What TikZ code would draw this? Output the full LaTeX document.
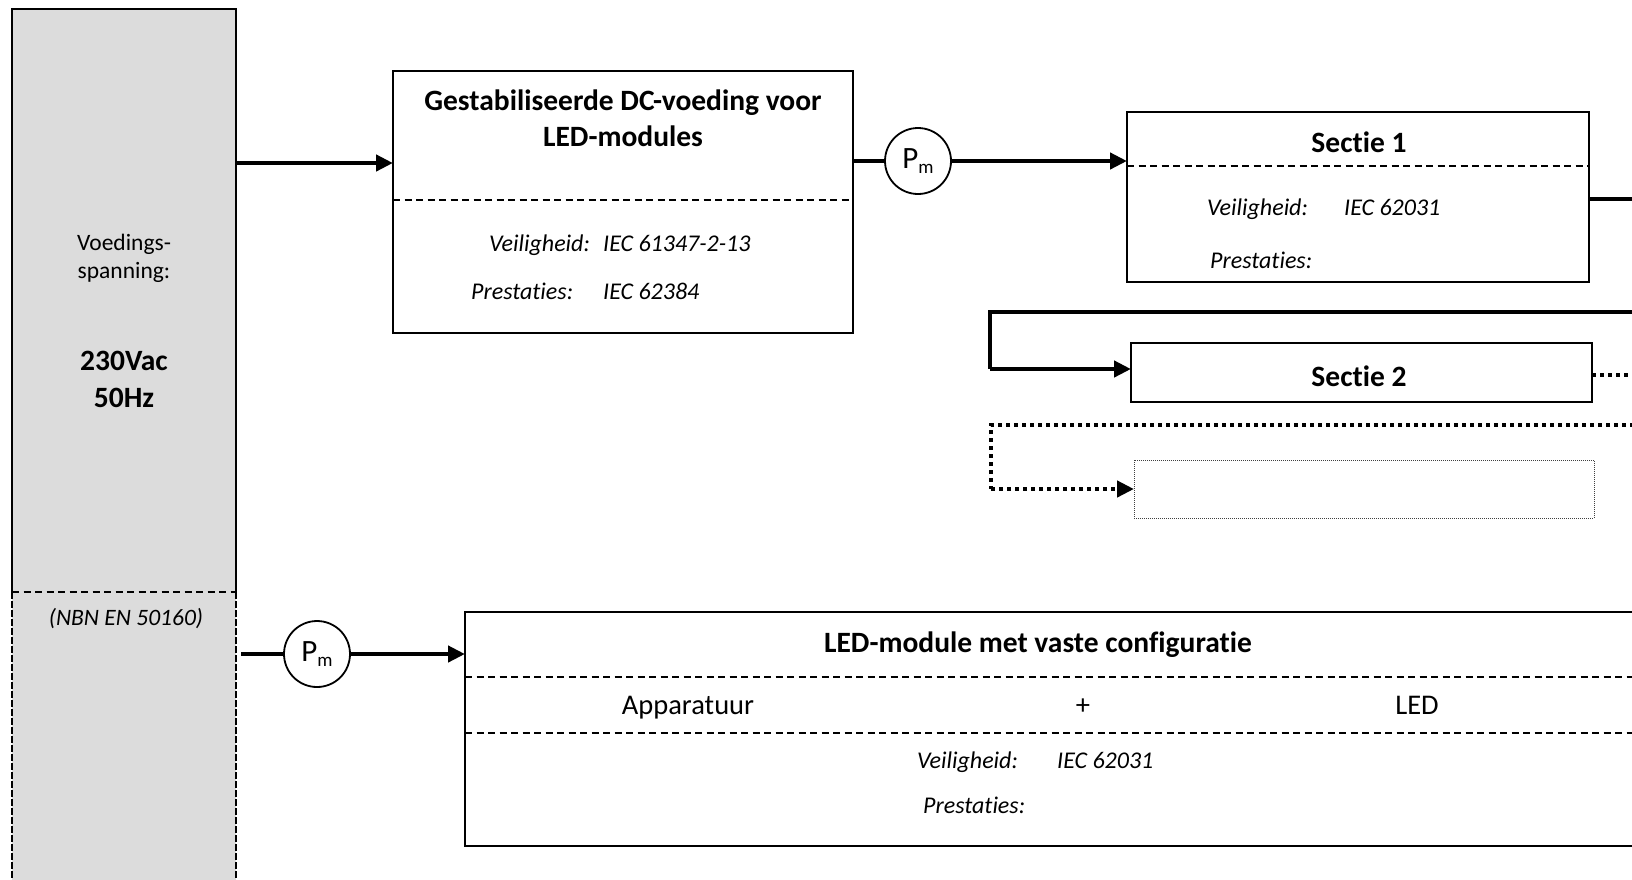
\documentclass[tikz,border=0pt]{standalone}
\usepackage{fontspec}
\setmainfont{Carlito}[RawFeature={-liga;-dlig;-clig}]
\usetikzlibrary{arrows.meta}
\definecolor{supplygray}{RGB}{220,220,220}
\begin{document}
\begin{tikzpicture}[x=1pt,y=-1pt,
  boxn/.style={draw, line width=2pt, rectangle, inner sep=0pt, outer sep=0pt, anchor=north west},
  sepline/.style={line width=1.6pt, dash pattern=on 7pt off 4.5pt},
  titletxt/.style={font=\fontsize{29.5}{34}\selectfont\bfseries, anchor=base, inner sep=0pt},
  normtxt/.style={font=\fontsize{28.5}{34}\selectfont, anchor=base, inner sep=0pt},
  smalltxt/.style={font=\fontsize{23.5}{28}\selectfont, anchor=base, inner sep=0pt},
  ittxt/.style={font=\fontsize{24}{28}\selectfont\itshape, anchor=base west, inner sep=0pt},
  pmcirc/.style={draw, circle, line width=1.8pt, minimum size=66pt, inner sep=0pt, outer sep=0pt, fill=white},
  flow/.style={line width=4.5pt, -{Triangle[length=17pt,width=16pt]}},
  flowline/.style={line width=4.5pt},
  dotflow/.style={line width=4.5pt, dash pattern=on 4pt off 4pt, -{Triangle[length=17pt,width=16pt]}},
  dotline/.style={line width=4.5pt, dash pattern=on 4pt off 4pt}
]
\useasboundingbox (0,0) rectangle (1632,879);
\clip (0,0) rectangle (1632,879);

% supply column
\node[rectangle, fill=supplygray, draw=none, inner sep=0pt, outer sep=0pt, anchor=north west,
      minimum width=224pt, minimum height=891pt] (supply) at (12,9) {};
\draw[line width=2pt] (12,592) -- (12,9) -- (236,9) -- (236,592);
\draw[sepline] (12,592) -- (236,592);
\draw[line width=2pt, dash pattern=on 7pt off 2pt] (12,592) -- (12,890);
\draw[line width=2pt, dash pattern=on 7pt off 2pt] (236,592) -- (236,890);
\node[smalltxt] (tv1) at (124,250) {Voedings-};
\node[smalltxt] (tv2) at (124,278) {spanning:};
\node[titletxt] (tv3) at (124,370) {230Vac};
\node[titletxt] (tv4) at (124,407) {50Hz};
\node[smalltxt, font=\fontsize{23.5}{28}\selectfont\itshape] (tnbn) at (126,625) {(NBN EN 50160)};

% DC supply box
\node[boxn, minimum width=460pt, minimum height=262pt] (dc) at (393,71) {};
\draw[sepline] (393,200) -- (853,200);
\node[titletxt] (dct1) at (623,110) {Gestabiliseerde DC-voeding voor};
\node[titletxt] (dct2) at (623,146) {LED-modules};
\node[ittxt] (dcv) at (489,251) {Veiligheid:};
\node[ittxt] (dcvv) at (603,251) {IEC 61347-2-13};
\node[ittxt] (dcp) at (471,299) {Prestaties:};
\node[ittxt] (dcpv) at (603,299) {IEC 62384};

% Pm circles
\node[pmcirc] (pm1) at (918,161) {\fontsize{31}{32}\selectfont P\raisebox{-0.3ex}{\fontsize{19}{20}\selectfont m}};
\node[pmcirc] (pm2) at (317,654) {\fontsize{31}{32}\selectfont P\raisebox{-0.3ex}{\fontsize{19}{20}\selectfont m}};

% Sectie 1
\node[boxn, minimum width=462pt, minimum height=170pt] (s1) at (1127,112) {};
\draw[sepline] (1127,166) -- (1589,166);
\node[titletxt] (s1t) at (1359,152) {Sectie 1};
\node[ittxt] (s1v) at (1207,215) {Veiligheid:};
\node[ittxt] (s1vv) at (1344,215) {IEC 62031};
\node[ittxt] (s1p) at (1210,268) {Prestaties:};

% Sectie 2
\node[boxn, minimum width=461pt, minimum height=59pt] (s2) at (1131,343) {};
\node[titletxt] (s2t) at (1359,386) {Sectie 2};

% empty dotted section
\node[draw=black!75, line width=1pt, dash pattern=on 1pt off 1pt, rectangle, inner sep=0pt, outer sep=0pt,
      anchor=north west, minimum width=460pt, minimum height=58pt] (s3) at (1134,460) {};

% LED module box
\node[boxn, minimum width=1235pt, minimum height=234pt] (led) at (465,612) {};
\draw[sepline] (465,677) -- (1700,677);
\draw[sepline] (465,733) -- (1700,733);
\node[titletxt] (ledt) at (1038,652) {LED-module met vaste configuratie};
\node[normtxt] (app) at (688,714) {Apparatuur};
\node[normtxt] (plus) at (1083,714) {+};
\node[normtxt] (ledl) at (1417,714) {LED};
\node[ittxt] (ledv) at (917,768) {Veiligheid:};
\node[ittxt] (ledvv) at (1057,768) {IEC 62031};
\node[ittxt] (ledp) at (923,813) {Prestaties:};

% connectors
\coordinate (outs1) at (1650,199);
\coordinate (loopin) at (1650,312);
\coordinate (loopc1) at (990,312);
\coordinate (loopc2) at (990,369);
\coordinate (outs2) at (1650,375);
\coordinate (dloopin) at (1650,425);
\coordinate (dloopc1) at (991,425);
\coordinate (dloopc2) at (991,489);
\coordinate (supplyout1) at (236,163);
\coordinate (supplyout2) at (241,654);

\draw[flow] (supplyout1) -- (dc.west |- supplyout1);
\draw[flowline] (dc.east |- pm1) -- (pm1.west);
\draw[flow] (pm1.east) -- (s1.west |- pm1);
\draw[flowline] (s1.east |- outs1) -- (outs1);
\draw[flowline] (loopin) -- (loopc1) -- (loopc2);
\draw[flow] (loopc2) -- (s2.west |- loopc2);
\draw[dotline] (s2.east |- outs2) -- (outs2);
\draw[dotline] (dloopin) -- (dloopc1) -- (dloopc2);
\draw[dotflow] (dloopc2) -- (s3.west |- dloopc2);
\draw[flowline] (supplyout2) -- (pm2.west);
\draw[flow] (pm2.east) -- (led.west |- pm2);
\end{tikzpicture}
\end{document}
